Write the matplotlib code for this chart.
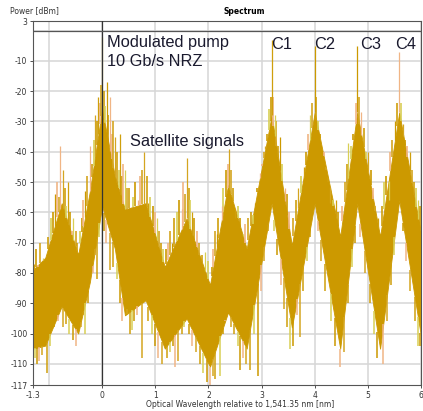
import matplotlib
matplotlib.use("Agg")
import matplotlib.pyplot as plt
import numpy as np

# body of the spectrum: upper and lower edge of the dense trace (dBm)
env_x = [-1.3, -1.07, -0.76, -0.45, -0.23, 0.0, 0.24, 0.43, 0.82, 1.18, 1.59,
         2.03, 2.37, 2.72, 3.19, 3.57, 4.0, 4.48, 4.80, 5.23, 5.59, 6.0]
env_hi = [-79, -75, -57, -74, -53, -26, -48, -59, -57, -78, -62,
          -84, -51, -72, -28, -71, -27, -68, -27, -68, -27, -67]
env_lo = [-105, -104, -91, -100, -83, -58, -72, -94, -89, -105, -95,
          -111, -93, -105, -57, -98, -57, -105, -57, -105, -56, -101]

# tall spikes above the body
up_x = [-1.29, -1.11, -0.89, -0.79, -0.73, -0.64, -0.54, -0.32, -0.23, -0.13,
        -0.07, 0.0, 0.09, 0.15, 0.24, 0.34, 0.43, 0.53, 0.68, 0.79, 0.87,
        1.03, 1.31, 1.50, 1.59, 1.69, 1.94, 2.16, 2.25, 2.39, 2.50, 2.65,
        2.88, 2.97, 3.07, 3.19, 3.25, 3.35, 3.44, 3.69, 3.79, 3.91, 4.0,
        4.13, 4.29, 4.40, 4.63, 4.80, 4.88, 5.01, 5.20, 5.39, 5.51, 5.59,
        5.67, 5.79, 5.95]
up_top = [-77, -75, -54, -38, -46, -50, -62, -53, -38, -28,
          -22, -2, -17, -22, -35, -34, -46, -62, -56, -40, -57,
          -62, -70, -59, -42, -60, -73, -67, -58, -39, -62, -67,
          -58, -47, -38, -3, -28, -35, -52, -52, -45, -28, -5,
          -38, -57, -56, -37, -5, -27, -40, -62, -56, -30, -7,
          -31, -40, -56]

# shorter spikes fringing the top of the body
fup_x = [-1.25, -1.20, -1.16, -1.02, -0.97, -0.93, -0.84, -0.81, -0.70, -0.67,
         -0.60, -0.57, -0.50, -0.47, -0.41, -0.37, -0.35, -0.28, -0.19, -0.16,
         -0.10, -0.04, -0.02, 0.03, 0.05, 0.12, 0.18, 0.21, 0.28, 0.31, 0.37,
         0.40, 0.46, 0.50, 0.58, 0.62, 0.72, 0.76, 0.84, 0.90, 0.95, 0.99,
         1.07, 1.11, 1.15, 1.20, 1.24, 1.28, 1.35, 1.40, 1.45, 1.53, 1.56,
         1.63, 1.66, 1.73, 1.78, 1.83, 1.88, 1.99, 2.06, 2.09, 2.13, 2.19,
         2.28, 2.33, 2.36, 2.42, 2.46, 2.55, 2.60, 2.69, 2.75, 2.80, 2.84,
         2.92, 3.01, 3.04, 3.10, 3.14, 3.17, 3.22, 3.28, 3.31, 3.38, 3.48,
         3.52, 3.60, 3.65, 3.74, 3.83, 3.88, 3.95, 4.03, 4.07, 4.10, 4.17,
         4.21, 4.25, 4.34, 4.44, 4.52, 4.57, 4.60, 4.68, 4.73, 4.77, 4.84,
         4.92, 4.96, 5.05, 5.10, 5.14, 5.26, 5.31, 5.35, 5.42, 5.46, 5.55,
         5.62, 5.70, 5.74, 5.83, 5.87, 5.91, 5.98]
fup_top = [-72, -78, -70, -68, -62, -60, -50, -55, -52, -58,
           -60, -66, -66, -70, -66, -62, -56, -48, -44, -36,
           -30, -24, -18, -20, -25, -28, -34, -30, -40, -46, -48,
           -44, -52, -52, -55, -50, -48, -46, -48, -55, -58, -60,
           -66, -70, -72, -72, -70, -66, -62, -60, -56, -50, -54,
           -52, -56, -62, -66, -70, -74, -76, -78, -72, -66, -62,
           -52, -46, -44, -46, -52, -58, -62, -64, -62, -60, -64,
           -52, -44, -40, -34, -26, -22, -22, -30, -38, -44, -54,
           -60, -62, -56, -48, -40, -34, -24, -22, -30, -34, -40,
           -46, -50, -58, -60, -58, -50, -44, -38, -34, -24, -22,
           -32, -40, -46, -52, -58, -58, -50, -48, -40, -36, -24,
           -24, -36, -38, -46, -50, -52, -58]

# spikes below the body
dn_x = [-1.27, -1.23, -1.18, -1.13, -1.04, -0.98, -0.90, -0.83, -0.74, -0.68,
        -0.62, -0.55, -0.50, -0.40, -0.36, -0.32, -0.27, -0.18, -0.13, -0.10,
        -0.05, 0.04, 0.08, 0.15, 0.20, 0.28, 0.33, 0.38, 0.46, 0.52, 0.56,
        0.60, 0.66, 0.75, 0.87, 0.93, 1.00, 1.06, 1.13, 1.22, 1.27, 1.33,
        1.37, 1.43, 1.50, 1.55, 1.64, 1.70, 1.76, 1.84, 1.90, 1.97, 2.03,
        2.08, 2.12, 2.22, 2.27, 2.32, 2.42, 2.48, 2.56, 2.60, 2.65, 2.70,
        2.78, 2.86, 2.93, 2.99, 3.05, 3.12, 3.24, 3.30, 3.36, 3.42, 3.48,
        3.54, 3.60, 3.67, 3.72, 3.78, 3.85, 3.92, 4.06, 4.12, 4.20, 4.30,
        4.38, 4.48, 4.55, 4.62, 4.70, 4.75, 4.86, 4.94, 5.04, 5.12, 5.18,
        5.29, 5.36, 5.44, 5.50, 5.66, 5.72, 5.80, 5.88, 5.94, 5.99]
dn_bot = [-108, -110, -109, -107, -113, -104, -98, -96, -98, -97,
          -100, -102, -104, -98, -94, -100, -90, -80, -74, -82,
          -68, -66, -70, -79, -78, -82, -90, -96, -92, -100, -99,
          -96, -94, -108, -96, -100, -104, -108, -110, -108, -106, -104,
          -111, -109, -100, -98, -100, -104, -106, -110, -113, -116, -117,
          -114, -115, -114, -100, -96, -98, -100, -104, -112, -108, -110,
          -112, -100, -114, -86, -76, -66, -66, -74, -84, -92, -98,
          -105, -104, -94, -101, -86, -76, -68, -66, -76, -86, -96,
          -104, -111, -106, -90, -78, -70, -68, -80, -90, -100, -108,
          -110, -96, -84, -74, -66, -76, -86, -96, -104, -104]

x_ticks = [-1.3, 0, 1, 2, 3, 4, 5, 6]
y_ticks = [3, -10, -20, -30, -40, -50, -60, -70, -80, -90, -100, -110, -117]

body_col = "#cc9900"
spike_cols = ["#cf9f0c", "#d8cf55", "#cc9900", "#f0b585", "#d4a520"]

fig = plt.figure(figsize=(4.23, 4.11), dpi=100)
ax = fig.add_axes([33 / 423, 26 / 411, 388 / 423, 363.5 / 411])

# grid
for gx in range(-1, 7):
    ax.axvline(gx, color="#d6d6d6", lw=1.1, zorder=0)
for gy in range(0, -117, -10):
    ax.axhline(gy, color="#d6d6d6", lw=1.1, zorder=0)

ax.fill_between(env_x, env_lo, env_hi, color=body_col, lw=0.6,
                edgecolor=body_col, zorder=2)

# spikes start from the body edge
for xs, ys, edge, off, w in [(fup_x, fup_top, env_hi, 2, 1.2),
                             (up_x, up_top, env_hi, 0, 0.9),
                             (dn_x, dn_bot, env_lo, 1, 1.1)]:
    base = np.interp(xs, env_x, edge)
    for i, (sx, sy, b) in enumerate(zip(xs, ys, base)):
        ax.vlines(sx, b, sy, color=spike_cols[(i + off) % len(spike_cols)],
                  lw=w, zorder=3)

# marker cross-hair at 0
ax.axvline(0, color="#333333", lw=0.9, zorder=4)
ax.axhline(0, color="#555555", lw=0.9, zorder=4)

ax.set_xlim(-1.3, 6)
ax.set_ylim(-117, 3)
ax.set_xticks(x_ticks)
ax.set_xticklabels(["-1.3", "0", "1", "2", "3", "4", "5", "6"])
ax.set_yticks(y_ticks)
ax.set_yticklabels([str(v) for v in y_ticks])
ax.tick_params(labelsize=5.5, length=2.5, width=0.6, pad=1.5, colors="#333333")
for s in ax.spines.values():
    s.set_color("#555555")
    s.set_linewidth(0.8)

txt = dict(family="Liberation Sans", color="#1a1a2e")
ax.text(0.09, -1.5, "Modulated pump\n10 Gb/s NRZ", fontsize=11.8, va="top",
        linespacing=1.35, **txt)
ax.text(0.52, -36.5, "Satellite signals", fontsize=11.8, va="center", **txt)
for lbl, lx in [("C1", 3.37), ("C2", 4.18), ("C3", 5.06), ("C4", 5.72)]:
    ax.text(lx, -4.5, lbl, fontsize=11.8, ha="center", va="center", **txt)

fig.text(10 / 423, 1 - 11 / 411, "Power [dBm]", fontsize=5.5, color="#333333",
         va="center")
fig.text(244 / 423, 1 - 11 / 411, "Spectrum", fontsize=5.5, weight="bold",
         ha="center", va="center")
fig.text(240 / 423, 1 - 404 / 411,
         "Optical Wavelength relative to 1,541.35 nm [nm]", fontsize=5.5,
         color="#333333", ha="center", va="center")

fig.savefig("out.png", dpi=100)
